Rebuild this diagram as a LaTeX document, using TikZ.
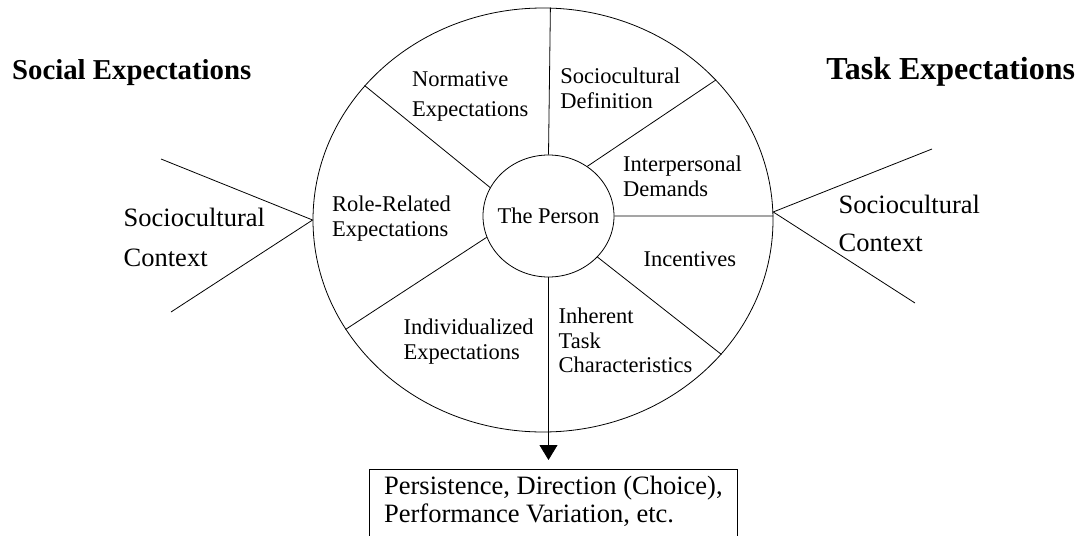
\documentclass[tikz,border=0pt]{standalone}
\usepackage{fontspec}
\setmainfont{Liberation Serif}
\usetikzlibrary{shapes.geometric,arrows.meta}

\begin{document}
\begin{tikzpicture}[x=0.5pt,y=-0.5pt,
	lbl/.style={inner sep=0pt,align=left,font=\fontsize{11.25pt}{12.5pt}\selectfont},
	ctx/.style={inner sep=0pt,align=left,font=\fontsize{13.25pt}{20pt}\selectfont},
	ttl/.style={inner sep=0pt,font=\fontsize{14.4pt}{17pt}\selectfont\bfseries}]
	\useasboundingbox (0,0) rectangle (1083,536);
	%% wheel
	\node[draw,ellipse,minimum width=230pt,minimum height=212pt,inner sep=0pt] (wheel) at (543,220) {};
	\node[draw,ellipse,minimum width=65.5pt,minimum height=61pt,inner sep=0pt,
		label={[lbl]center:The Person}] (person) at (548.5,216) {};
	% spokes
	\draw (person.90) -- (wheel.88.7);
	\draw (person.52.8) -- (wheel.39.2);
	\draw (person.0) -- (wheel.1);
	\draw (person.-40.6) -- (wheel.-37);
	\draw (person.199) -- (wheel.209);
	\draw (person.154.7) -- (wheel.143.7);
	% sectors (base = last line)
	\node[lbl,anchor=base west,font=\fontsize{11.25pt}{15.25pt}\selectfont] (norm) at (411.7,116.7) {Normative\\Expectations};
	\node[lbl,anchor=base west] (socdef) at (560,108.3) {Sociocultural\\Definition};
	\node[lbl,anchor=base west] (inter) at (622.7,196.7) {Interpersonal\\Demands};
	\node[lbl,anchor=base west] (role) at (331.7,236) {Role-Related\\Expectations};
	\node[lbl,anchor=base west] (incent) at (643.3,266.7) {Incentives};
	\node[lbl,anchor=base west] (indiv) at (403.3,359.3) {Individualized\\Expectations};
	\node[lbl,anchor=base west,font=\fontsize{11.25pt}{12.2pt}\selectfont] (inher) at (558.3,372.7) {Inherent\\Task\\Characteristics};
	%% contexts
	\node[ttl,anchor=base west] (social) at (11.7,79.3) {Social Expectations};
	\node[ttl,anchor=base west,font=\fontsize{16pt}{18pt}\selectfont\bfseries] (task) at (826,79) {Task Expectations};
	\node[ctx,anchor=base west] (lctx) at (123.3,266.7) {Sociocultural\\Context};
	\node[ctx,anchor=base west,font=\fontsize{13.25pt}{19pt}\selectfont] (rctx) at (838.3,251.7) {Sociocultural\\Context};
	\coordinate (lu) at (161,159);
	\coordinate (ll) at (171,312);
	\draw (lu) -- (wheel.west) -- (ll);
	\coordinate (ru) at (932,149);
	\coordinate (rl) at (915,303);
	\draw (ru) -- (wheel.2.2) -- (rl);
	%% outcome
	\node[draw,anchor=north west,align=left,minimum width=184pt,inner xsep=0pt,inner ysep=3.3pt,
		font=\fontsize{13.25pt}{14pt}\selectfont] (outcome) at (369,469)
		{Persistence, Direction (Choice),\\Performance Variation, etc.\rule[-12pt]{0pt}{1pt}};
	\draw[-{Triangle[width=9pt,length=7.5pt]},shorten >=4.5pt] (person.south) -- (person.south |- outcome.north);
\end{tikzpicture}
\end{document}
